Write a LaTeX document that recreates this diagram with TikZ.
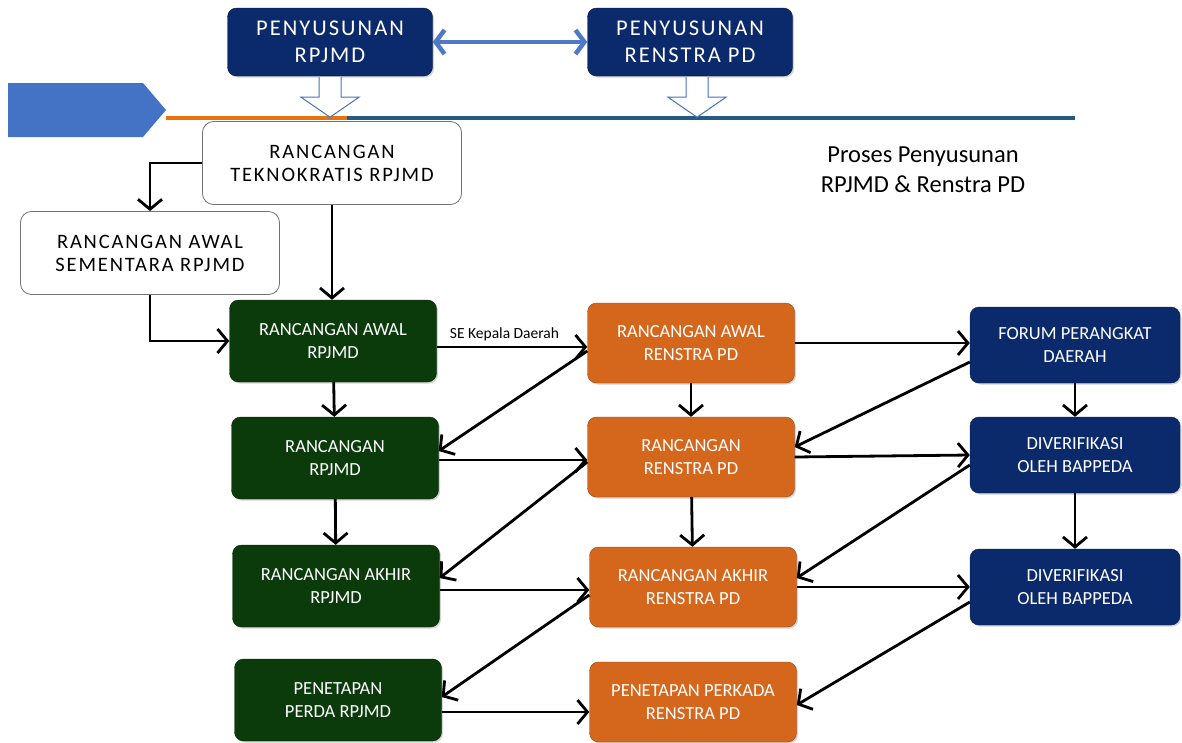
\documentclass[tikz,border=0pt]{standalone}
\usepackage{fontspec}
\setmainfont{Carlito}
\newfontfamily\spaced[LetterSpace=9]{Carlito}
\usetikzlibrary{arrows.meta,calc,shadows}

\definecolor{navy}{HTML}{0B2A6B}
\definecolor{hijau}{HTML}{0B3B0B}
\definecolor{jingga}{HTML}{D5671D}
\definecolor{pentblue}{HTML}{4472C4}
\definecolor{garisjingga}{HTML}{E8720C}
\definecolor{garisbiru}{HTML}{255A87}

\tikzset{
  kotak/.style={rounded corners=9pt, align=center, text=white,
    font=\fontsize{18.5}{23}\selectfont,
    drop shadow={opacity=0.35, shadow xshift=1.5pt, shadow yshift=-1.5pt}},
  rpjmdbox/.style={kotak, fill=hijau, draw=hijau!70!black, minimum width=207pt, minimum height=82pt},
  renstrabox/.style={kotak, fill=jingga, draw=jingga!70!black, minimum width=207pt, minimum height=80pt},
  bappedabox/.style={kotak, fill=navy, draw=navy!70!black, minimum width=210pt, minimum height=76pt},
  topbox/.style={kotak, fill=navy, draw=navy!60!black, minimum width=205pt, minimum height=68pt,
    font=\spaced\fontsize{22.5}{27}\selectfont},
  putih/.style={rounded corners=11pt, draw=black!55, fill=white, line width=0.8pt,
    align=center, minimum width=259pt, minimum height=83pt,
    font=\spaced\fontsize{20.5}{23}\selectfont},
  arr/.style={line width=2.8pt, -{Straight Barb[length=10pt,width=24pt]}},
  hollow/.style={draw=pentblue, fill=white, line width=1pt},
}

\begin{document}
\begin{tikzpicture}[x=1pt, y=-1pt]
    \useasboundingbox (0,0) rectangle (1182,742);

    % bagian atas
    \node[topbox] (penyR) at (330,42) {PENYUSUNAN\\RPJMD};
    \node[topbox] (penyS) at (690,42) {PENYUSUNAN\\RENSTRA PD};
    \draw[pentblue!95!white, line width=4.5pt, {Straight Barb[length=9pt,width=24pt]}-{Straight Barb[length=9pt,width=24pt]}]
        (penyR.east) -- (penyS.west);

    \fill[pentblue] (8,83) -- (143,83) -- (166,110) -- (143,137) -- (8,137) -- cycle;
    \coordinate (garisA) at (166,118);
    \coordinate (garisB) at (347,118);
    \coordinate (garisC) at (1075,118);
    \draw[garisjingga, line width=4pt] (garisA) -- (garisB);
    \draw[garisbiru, line width=4pt] (garisB) -- (garisC);

    \draw[hollow, shift={(penyR.south)}] (-11,1) -- (-11,21) -- (-29,21) -- (0,41) -- (29,21) -- (11,21) -- (11,1);
    \draw[hollow, shift={($(penyS.south)+(7,0)$)}] (-11,1) -- (-11,21) -- (-29,21) -- (0,41) -- (29,21) -- (11,21) -- (11,1);

    \node[align=center, font=\fontsize{24.5}{30}\selectfont] (judul) at (923,170) {Proses Penyusunan\\RPJMD \& Renstra PD};

    % rancangan awal
    \node[putih] (tekno) at (332,163) {RANCANGAN\\TEKNOKRATIS RPJMD};
    \node[putih] (sementara) at (150,253) {RANCANGAN AWAL\\SEMENTARA RPJMD};

    % kolom RPJMD
    \node[rpjmdbox] (raR) at (333,341) {RANCANGAN AWAL\\RPJMD};
    \node[rpjmdbox] (rR) at (335,458) {RANCANGAN\\RPJMD};
    \node[rpjmdbox] (aR) at (336,586) {RANCANGAN AKHIR\\RPJMD};
    \node[rpjmdbox] (pR) at (338,700) {PENETAPAN\\PERDA RPJMD};

    % kolom Renstra PD
    \node[renstrabox] (raS) at (691,343) {RANCANGAN AWAL\\RENSTRA PD};
    \node[renstrabox] (rS) at (691,457) {RANCANGAN\\RENSTRA PD};
    \node[renstrabox] (aS) at (693,587) {RANCANGAN AKHIR\\RENSTRA PD};
    \node[renstrabox] (pS) at (693,702) {PENETAPAN PERKADA\\RENSTRA PD};

    % kolom Bappeda
    \node[bappedabox] (forum) at (1075,345) {FORUM PERANGKAT\\DAERAH};
    \node[bappedabox] (ver1) at (1075,455) {DIVERIFIKASI\\OLEH BAPPEDA};
    \node[bappedabox] (ver2) at (1075,587) {DIVERIFIKASI\\OLEH BAPPEDA};

    \draw[arr] (tekno.west) -| (sementara.north);
    \draw[arr] (tekno.south) -- (tekno.south |- raR.north);
    \draw[arr] (sementara.south) |- (raR.west);

    \draw[arr] (raR) -- (rR);
    \draw[arr] (rR) -- (aR);
    \draw[arr] (raS) -- (rS);
    \draw[arr] (rS) -- (aS);
    \draw[arr] (forum) -- (ver1);
    \draw[arr] (ver1) -- (ver2);

    \draw[arr] ([yshift=-6pt]raR.east) -- node[above=1pt, pos=0.45, font=\fontsize{15.5}{17}\selectfont] {SE Kepala Daerah}
        ([yshift=-6pt]raR.east -| raS.west);
    \draw[arr] ([yshift=-2pt]rR.east) -- ([yshift=-2pt]rR.east -| rS.west);
    \draw[arr] ([yshift=-4pt]aR.east) -- ([yshift=-4pt]aR.east -| aS.west);
    \draw[arr] ([yshift=-12pt]pR.east) -- ([yshift=-12pt]pR.east -| pS.west);

    \draw[arr] (raS.east) -- (raS.east -| forum.west);
    \draw[arr] (rS.east) -- (ver1.west);
    \draw[arr] (aS.east) -- (aS.east -| ver2.west);

    \draw[arr] ([yshift=-8pt]raS.west) -- ([yshift=7pt]rR.east);
    \draw[arr] ([yshift=-5pt]rS.west) -- ([yshift=8pt]aR.east);
    \draw[arr] ([yshift=-8pt]aS.west) -- ([yshift=3pt]pR.east);

    \draw[arr] ([yshift=-17pt]forum.west) -- ([yshift=10pt]rS.east);
    \draw[arr] ([yshift=-10pt]ver1.west) -- ([yshift=9pt]aS.east);
    \draw[arr] ([yshift=-15pt]ver2.west) -- ([yshift=-3pt]pS.east);
\end{tikzpicture}
\end{document}
